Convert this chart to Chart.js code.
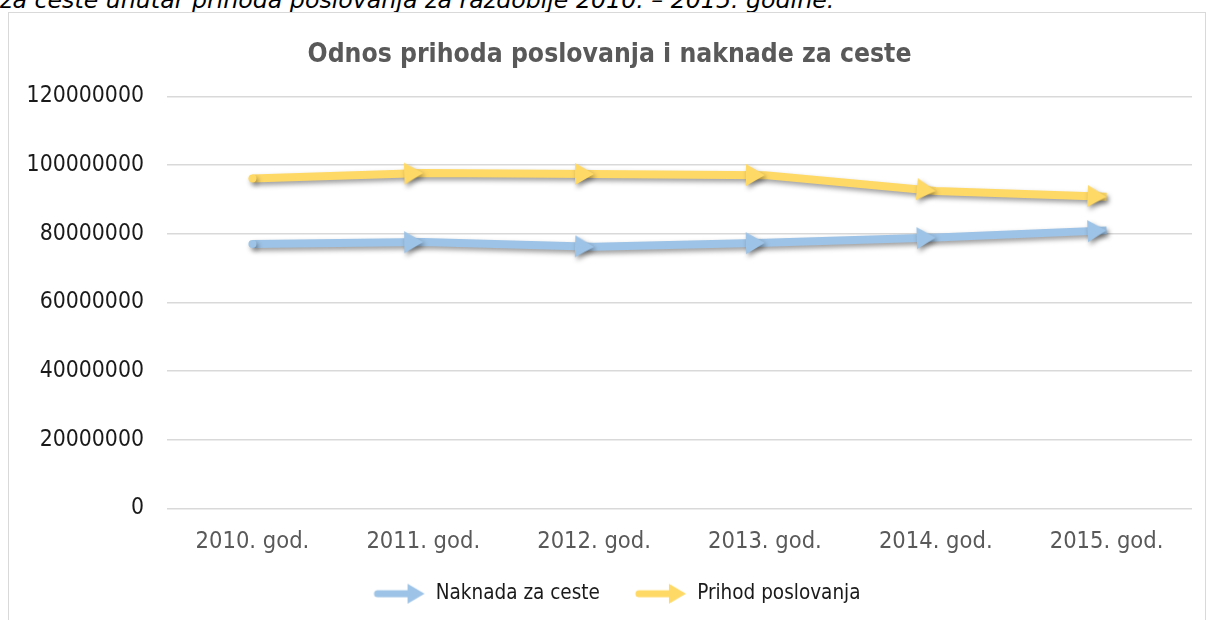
<!DOCTYPE html>
<html>
<head>
<meta charset="utf-8">
<script src="https://cdn.jsdelivr.net/npm/chart.js@4.4.1/dist/chart.umd.min.js"></script>
<style>
  html, body { margin: 0; padding: 0; background: #ffffff; overflow: hidden; }
  body { width: 1209px; height: 620px; position: relative; }
  #caption { position: absolute; left: 0; top: -10px; font: italic 23.7px 'DejaVu Sans', sans-serif; color: #000; white-space: nowrap; line-height: 20px; }
  #frame { position: absolute; left: 8px; top: 12px; width: 1196px; height: 640px; border: 1px solid #d9d9d9; background: #fff; }
  #wrap { position: absolute; left: 0; top: 0; width: 1209px; height: 620px; }
</style>
</head>
<body>
<div id="caption">za ceste unutar prihoda poslovanja za razdoblje 2010. – 2015. godine.</div>
<div id="frame"></div>
<div id="wrap"><canvas id="c" width="1209" height="620"></canvas></div>
<script>
// ---- data ----
const categories = ['2010. god.', '2011. god.', '2012. god.', '2013. god.', '2014. god.', '2015. god.'];
const naknadaZaCeste = [77000000, 77600000, 76200000, 77400000, 78900000, 81000000];
const prihodPoslovanja = [96100000, 97700000, 97400000, 97100000, 92500000, 90800000];
const seriesNames = ['Naknada za ceste', 'Prihod poslovanja'];
const yMin = 0, yMax = 120000000, yStep = 20000000;

// ---- styling ----
const BLUE = '#9dc3e6';
const YELLOW = '#ffd966';
const FONT = "'DejaVu Sans Condensed', 'DejaVu Sans', sans-serif";
const ICON_GAP = 15;   // blank space left of each legend icon (item spacing)

function makeArrowHead(color, len, wid) {
  const s = Math.ceil(Math.max(len, wid / 2)) * 2 + 4;
  const cv = document.createElement('canvas');
  cv.width = s; cv.height = s;
  const g = cv.getContext('2d');
  const c = s / 2;
  g.fillStyle = color;
  g.beginPath();
  g.moveTo(c, c);
  g.lineTo(c - len, c - wid / 2);
  g.lineTo(c - len, c + wid / 2);
  g.closePath();
  g.fill();
  return cv;
}
function makeLegendIcon(color) {
  const vis = 52, w = vis + ICON_GAP, h = 22;
  const cv = document.createElement('canvas');
  cv.width = w; cv.height = h;
  const g = cv.getContext('2d');
  g.strokeStyle = color; g.fillStyle = color;
  g.lineWidth = 7; g.lineCap = 'round';
  const x0 = ICON_GAP;
  g.beginPath(); g.moveTo(x0 + 4, h / 2); g.lineTo(w - 16, h / 2); g.stroke();
  g.beginPath(); g.moveTo(w - 1, h / 2); g.lineTo(w - 18, 1); g.lineTo(w - 18, h - 1); g.closePath(); g.fill();
  return cv;
}
const heads = [makeArrowHead(BLUE, 19, 22), makeArrowHead(YELLOW, 19, 22)];
const legendIcons = [makeLegendIcon(BLUE), makeLegendIcon(YELLOW)];

function segAngle(ctx) {
  const i = ctx.dataIndex;
  if (!i) return 0;
  const ch = ctx.chart, xs = ch.scales.x, ys = ch.scales.y;
  const d = ctx.dataset.data;
  const dx = xs.getPixelForValue(i) - xs.getPixelForValue(i - 1);
  const dy = ys.getPixelForValue(d[i]) - ys.getPixelForValue(d[i - 1]);
  return Math.atan2(dy, dx) * 180 / Math.PI;
}

function mkDataset(label, data, color, idx) {
  return {
    label, data,
    borderColor: color,
    backgroundColor: color,
    borderWidth: 8,
    borderCapStyle: 'butt',
    borderJoinStyle: 'round',
    tension: 0,
    fill: false,
    pointStyle: (ctx) => ctx.dataIndex === 0 ? 'circle' : heads[idx],
    pointRadius: (ctx) => ctx.dataIndex === 0 ? 4 : 10,
    pointBorderWidth: 0,
    pointBackgroundColor: color,
    pointBorderColor: color,
    pointRotation: segAngle,
    pointHoverRadius: (ctx) => ctx.dataIndex === 0 ? 4 : 10
  };
}

const shadowPlugin = {
  id: 'shadow',
  beforeDatasetDraw(chart) {
    const c = chart.ctx;
    c.save();
    c.shadowColor = 'rgba(0,0,0,0.38)';
    c.shadowBlur = 5;
    c.shadowOffsetX = 2;
    c.shadowOffsetY = 3;
  },
  afterDatasetDraw(chart) { chart.ctx.restore(); }
};

new Chart(document.getElementById('c'), {
  type: 'line',
  data: {
    labels: categories,
    datasets: [
      mkDataset(seriesNames[0], naknadaZaCeste, BLUE, 0),
      mkDataset(seriesNames[1], prihodPoslovanja, YELLOW, 1)
    ]
  },
  plugins: [shadowPlugin],
  options: {
    responsive: false,
    animation: false,
    events: [],
    layout: { padding: { left: 27, right: 17, top: 0, bottom: 6 } },
    plugins: {
      tooltip: { enabled: false },
      title: {
        display: true,
        text: 'Odnos prihoda poslovanja i naknade za ceste',
        color: '#595959',
        font: { family: FONT, size: 26.3, weight: 'bold', lineHeight: 1.2 },
        padding: { top: 39, bottom: 26 }
      },
      legend: {
        position: 'bottom',
        labels: {
          usePointStyle: true,
          pointStyleWidth: 52 + ICON_GAP,
          color: '#1a1a1a',
          font: { family: FONT, size: 20.5 },
          padding: 20,
          generateLabels: (chart) => chart.data.datasets.map((ds, i) => ({
            text: ds.label,
            pointStyle: legendIcons[i],
            fillStyle: ds.borderColor,
            strokeStyle: ds.borderColor,
            lineWidth: 0,
            hidden: false,
            datasetIndex: i,
            fontColor: '#1a1a1a'
          }))
        }
      }
    },
    scales: {
      x: {
        offset: true,
        afterFit: (s) => { s.height -= 12; },
        grid: { display: false, drawTicks: false },
        border: { display: false },
        ticks: { color: '#595959', font: { family: FONT, size: 23.5 }, padding: 19.5, maxRotation: 0 }
      },
      y: {
        min: yMin, max: yMax,
        afterFit: (s) => { s.width = 140; },
        grid: { color: '#d9d9d9', lineWidth: 1.5, drawTicks: false },
        border: { display: false },
        ticks: { stepSize: yStep, color: '#1a1a1a', font: { family: FONT, size: 22.8 }, padding: 23,
                 callback: (v) => String(v) }
      }
    }
  }
});
</script>
</body>
</html>
